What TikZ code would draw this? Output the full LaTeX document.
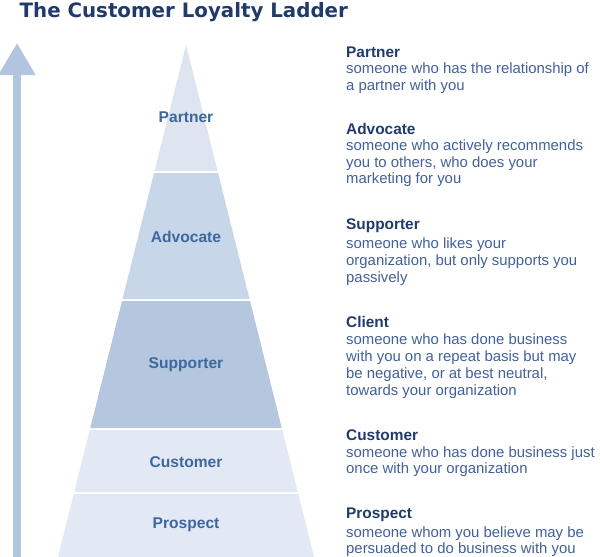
\documentclass[tikz,border=0pt]{standalone}
\usepackage{fontspec}
\setmainfont{Liberation Sans}
\newfontfamily\titlefont{DejaVu Sans}
\usetikzlibrary{arrows.meta}
\definecolor{titlecol}{HTML}{1F3A6B}
\definecolor{headcol}{HTML}{1F3A6B}
\definecolor{bodycol}{HTML}{41609A}
\definecolor{labcol}{HTML}{3E679E}
\definecolor{bandA}{HTML}{DEE5F1}
\definecolor{bandB}{HTML}{C7D6E8}
\definecolor{bandC}{HTML}{B4C7DF}
\definecolor{bandD}{HTML}{E2E9F4}
\definecolor{arrowcol}{HTML}{B2C5DF}
\tikzset{
  band/.style={draw=none},
  lvl/.style={font=\bfseries\fontsize{15.6}{17}\selectfont, text=labcol, inner sep=0pt, anchor=center},
  head/.style={font=\bfseries\fontsize{15.4}{17}\selectfont, text=headcol, inner sep=0pt, anchor=base west},
  body/.style={font=\fontsize{14.9}{17}\selectfont, text=bodycol, inner sep=0pt, anchor=base west},
  ladder/.style={draw=arrowcol, line width=8pt, -{Triangle[width=35pt,length=32pt]}}
}
\begin{document}
\begin{tikzpicture}[x=1pt,y=-1pt]
\useasboundingbox (0,0) rectangle (600,557);
% title
\node[font=\titlefont\bfseries\fontsize{19.8}{22}\selectfont, text=titlecol, inner sep=0pt, anchor=base west] (title) at (19.5,17) {The Customer Loyalty Ladder};
% arrow
\coordinate (arrbot) at (17,570);
\coordinate (arrtop) at (17,43);
\draw[ladder] (arrbot) -- (arrtop);
% pyramid bands
\fill[bandA] (186,45) -- (217.5,171) -- (154.5,171) -- cycle;
\fill[bandB] (154,173) -- (218,173) -- (249.5,299) -- (122.5,299) -- cycle;
\fill[bandC] (122,301) -- (250,301) -- (281.75,428) -- (90.25,428) -- cycle;
\fill[bandD] (89.75,430) -- (282.25,430) -- (297.75,492) -- (74.25,492) -- cycle;
\fill[bandD] (73.75,494) -- (298.25,494) -- (314,557) -- (58,557) -- cycle;
% pyramid labels
\node[lvl] (lpartner) at (186,117) {Partner};
\node[lvl] (ladvocate) at (186,237) {Advocate};
\node[lvl] (lsupporter) at (186,365) {Supporter};
\node[lvl] (lcustomer) at (186,462) {Customer};
\node[lvl] (lprospect) at (186,525) {Prospect};
% descriptions
\node[head] (h1) at (346,57) {Partner};
\node[body] (b1a) at (346,73.5) {someone who has the relationship of};
\node[body] (b1b) at (346,90.5) {a partner with you};

\node[head] (h2) at (346,134) {Advocate};
\node[body] (b2a) at (346,150.5) {someone who actively recommends};
\node[body] (b2b) at (346,167) {you to others, who does your};
\node[body] (b2c) at (346,183.5) {marketing for you};

\node[head] (h3) at (346,229) {Supporter};
\node[body] (b3a) at (346,248) {someone who likes your};
\node[body] (b3b) at (346,265) {organization, but only supports you};
\node[body] (b3c) at (346,282) {passively};

\node[head] (h4) at (346,327) {Client};
\node[body] (b4a) at (346,344) {someone who has done business};
\node[body] (b4b) at (346,361) {with you on a repeat basis but may};
\node[body] (b4c) at (346,378) {be negative, or at best neutral,};
\node[body] (b4d) at (346,395) {towards your organization};

\node[head] (h5) at (346,440.5) {Customer};
\node[body] (b5a) at (346,457) {someone who has done business just};
\node[body] (b5b) at (346,473.5) {once with your organization};

\node[head] (h6) at (346,518) {Prospect};
\node[body] (b6a) at (346,537) {someone whom you believe may be};
\node[body] (b6b) at (346,553.5) {persuaded to do business with you};
\end{tikzpicture}
\end{document}
